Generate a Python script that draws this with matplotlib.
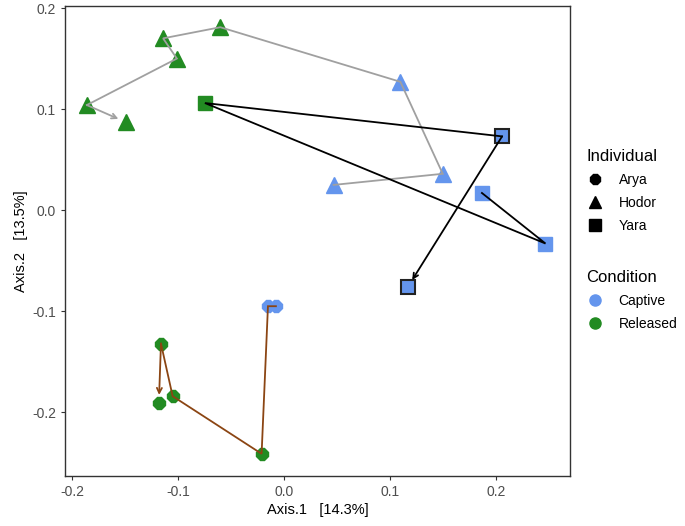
import matplotlib
matplotlib.use("Agg")
import matplotlib.pyplot as plt
from matplotlib.lines import Line2D

plt.rcParams['font.family'] = ['Liberation Sans', 'DejaVu Sans']

# Data (trajectories in time order)
arya_x = [-0.0075, -0.015, -0.021, -0.105, -0.116, -0.118]
arya_y = [-0.095, -0.095, -0.241, -0.184, -0.132, -0.191]
arya_cond = ["Captive", "Captive", "Released", "Released", "Released", "Released"]

hodor_x = [0.047, 0.150, 0.110, -0.060, -0.114, -0.101, -0.186, -0.149]
hodor_y = [0.025, 0.036, 0.127, 0.181, 0.170, 0.150, 0.104, 0.087]
hodor_cond = ["Captive", "Captive", "Captive", "Released", "Released", "Released", "Released", "Released"]

yara_x = [0.187, 0.247, -0.0745, 0.206, 0.117]
yara_y = [0.017, -0.033, 0.106, 0.073, -0.076]
yara_cond = ["Captive", "Captive", "Released", "Captive", "Captive"]
yara_edge = [False, False, False, True, True]

cond_colors = {"Captive": "#6495ED", "Released": "#228B22"}

fig = plt.figure(figsize=(6.85, 5.26), dpi=100)
ax = fig.add_axes([0.0949, 0.095, 0.737, 0.8936])

# points
for x, y, c in zip(arya_x, arya_y, arya_cond):
    ax.plot(x, y, marker='8', ms=9, color=cond_colors[c], mec=cond_colors[c], ls='none', zorder=1)
for x, y, c in zip(hodor_x, hodor_y, hodor_cond):
    ax.plot(x, y, marker='^', ms=11.5, color=cond_colors[c], mec=cond_colors[c], ls='none', zorder=1)
for x, y, c, e in zip(yara_x, yara_y, yara_cond, yara_edge):
    ax.plot(x, y, marker='s', ms=10, color=cond_colors[c],
            mec='#222222' if e else cond_colors[c], mew=1.5 if e else 1, ls='none', zorder=1)

def path(xs, ys, color, lw=1.3):
    ax.plot(xs[:-1], ys[:-1], color=color, lw=lw, zorder=3, solid_joinstyle='miter')
    ax.annotate("", xy=(xs[-1], ys[-1]), xytext=(xs[-2], ys[-2]),
                arrowprops=dict(arrowstyle="->", color=color, lw=lw,
                                mutation_scale=9, shrinkA=0, shrinkB=6),
                zorder=3)

# lines on top of points
path(hodor_x, hodor_y, "#A0A0A0")
path(yara_x, yara_y, "black")
path(arya_x, arya_y, "#8B4513")

ax.set_xlim(-0.2066, 0.27)
ax.set_ylim(-0.263, 0.202)
ax.set_xticks([-0.2, -0.1, 0.0, 0.1, 0.2])
ax.set_xticklabels(["-0.2", "-0.1", "0.0", "0.1", "0.2"])
ax.set_yticks([-0.2, -0.1, 0.0, 0.1, 0.2])
ax.set_yticklabels(["-0.2", "-0.1", "0.0", "0.1", "0.2"])
ax.tick_params(length=3, width=0.8, colors="#333333", labelcolor="#4D4D4D", labelsize=10)
for s in ax.spines.values():
    s.set_color("#333333")
    s.set_linewidth(1.0)
ax.set_xlabel("Axis.1   [14.3%]", fontsize=10.5, labelpad=3)
ax.set_ylabel("Axis.2   [13.5%]", fontsize=10.5, labelpad=3)

# legends
ind_handles = [Line2D([], [], marker=m, color='black', ls='none', ms=ms)
               for m, ms in [('8', 8), ('^', 9), ('s', 8)]]
leg1 = fig.legend(ind_handles, ["Arya", "Hodor", "Yara"], title="Individual",
                  loc="upper left", bbox_to_anchor=(0.838, 0.74), frameon=False,
                  fontsize=10, title_fontsize=12, handletextpad=1.1, labelspacing=0.65,
                  alignment='left', handlelength=1.2)
cond_handles = [Line2D([], [], marker='o', color=cond_colors[k], ls='none', ms=8)
                for k in ["Captive", "Released"]]
leg2 = fig.legend(cond_handles, ["Captive", "Released"], title="Condition",
                  loc="upper left", bbox_to_anchor=(0.838, 0.51), frameon=False,
                  fontsize=10, title_fontsize=12, handletextpad=1.1, labelspacing=0.65,
                  alignment='left', handlelength=1.2)

fig.savefig("out.png", dpi=100)
